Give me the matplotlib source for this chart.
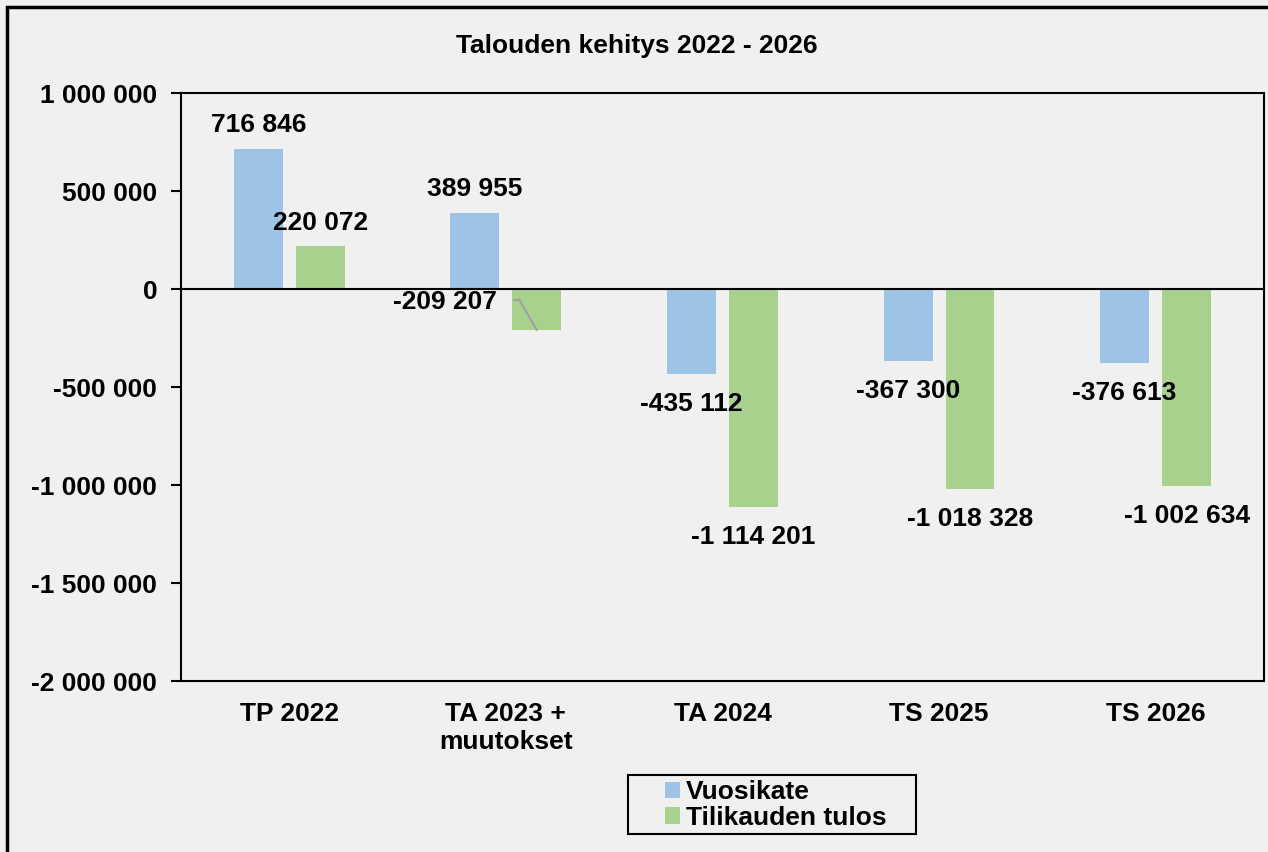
import matplotlib.pyplot as plt
from matplotlib.patches import Rectangle
from matplotlib.ticker import FuncFormatter, MultipleLocator
import numpy as np

categories = ['TP 2022', 'TA 2023 +\nmuutokset', 'TA 2024', 'TS 2025', 'TS 2026']
vuosikate = [716846, 389955, -435112, -367300, -376613]
tulos = [220072, -209207, -1114201, -1018328, -1002634]
series_names = ['Vuosikate', 'Tilikauden tulos']
title = 'Talouden kehitys 2022 - 2026'

BLUE = '#9dc3e6'
GREEN = '#a9d18e'
BG = '#f0f0f0'
FS = 19

plt.rcParams['font.family'] = ['Liberation Sans', 'DejaVu Sans']
plt.rcParams['font.weight'] = 'bold'


def fmt(v):
    return f'{v:,.0f}'.replace(',', ' ')


fig = plt.figure(figsize=(12.68, 8.52), dpi=100, facecolor=BG)
ax = fig.add_axes([0.1427, 0.2007, 0.9968 - 0.1427, 0.8908 - 0.2007])
ax.set_facecolor(BG)

# outer chart border (runs off the right/bottom edge as in the source)
fig.patches.append(Rectangle((7 / 1268, -0.05), 1.2, 1 - 7 / 852 + 0.05,
                             transform=fig.transFigure, fill=False,
                             edgecolor='black', linewidth=2.5))

x = np.arange(len(categories))
off = 0.143
w = 0.226
ax.bar(x - off, vuosikate, w, color=BLUE, label=series_names[0], zorder=2)
ax.bar(x + off, tulos, w, color=GREEN, label=series_names[1], zorder=2)

ax.axhline(0, color='black', linewidth=1.5, zorder=3)
ax.set_xlim(-0.5, len(categories) - 0.5)
ax.set_ylim(-2000000, 1000000)
ax.yaxis.set_major_locator(MultipleLocator(500000))
ax.yaxis.set_major_formatter(FuncFormatter(lambda v, p: fmt(v)))
ax.set_xticks(x)
ax.set_xticklabels(categories)
ax.tick_params(axis='x', length=0, pad=15, labelsize=FS)
ax.tick_params(axis='y', length=7, width=1.5, pad=10, labelsize=FS, direction='out')
for s in ax.spines.values():
    s.set_linewidth(1.5)

# data labels
for xs, vals in ((x - off, vuosikate), (x + off, tulos)):
    for xi, v in zip(xs, vals):
        if v == -209207:
            ax.annotate(fmt(v), xy=(xi, v), xytext=(-66, 20), textcoords='offset points',
                        ha='center', va='center', fontsize=FS, fontweight='bold', zorder=4,
                        arrowprops=dict(arrowstyle='-', color='#a0a0a0', lw=1.5,
                                        relpos=(1, 0.6), shrinkA=10, shrinkB=0,
                                        connectionstyle='angle,angleA=0,angleB=120,rad=0'))
        elif v >= 0:
            ax.annotate(fmt(v), xy=(xi, v), xytext=(0, 8), textcoords='offset points',
                        ha='center', va='bottom', fontsize=FS, fontweight='bold', zorder=4)
        else:
            ax.annotate(fmt(v), xy=(xi, v), xytext=(0, -13), textcoords='offset points',
                        ha='center', va='top', fontsize=FS, fontweight='bold', zorder=4)

fig.text(0.5025, 0.946, title, ha='center', va='center', fontsize=FS, fontweight='bold')

# legend with its own frame, wider than the entries as in the source
leg = fig.legend(loc='center left', bbox_to_anchor=(662 / 1268, 1 - 805 / 852), ncol=1,
                 fontsize=FS, frameon=False, handlelength=0.6,
                 handleheight=0.6, handletextpad=0.2, borderpad=0.1,
                 labelspacing=0.05, borderaxespad=0)
fig.patches.append(Rectangle((628 / 1268, 1 - 834 / 852), 288 / 1268, 59 / 852,
                             transform=fig.transFigure, fill=False,
                             edgecolor='black', linewidth=1.5))

fig.savefig('out.png', dpi=100, facecolor=BG)
